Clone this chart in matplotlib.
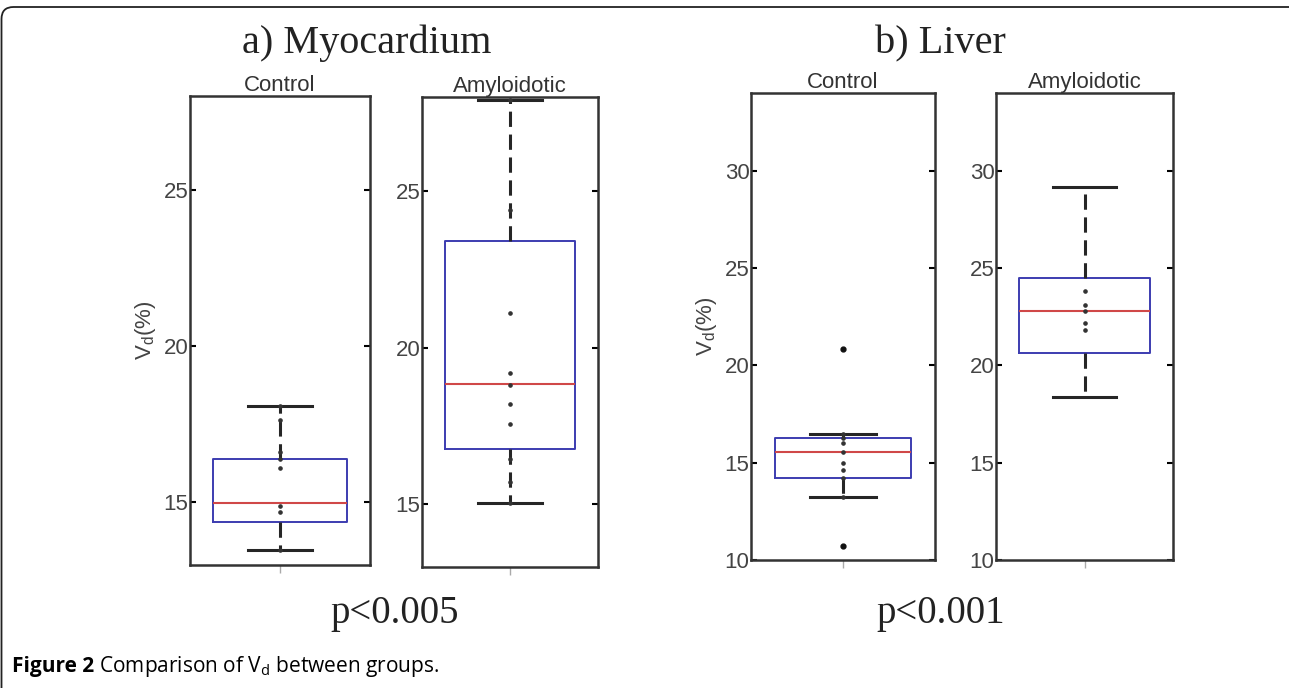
import matplotlib
matplotlib.use("Agg")
import matplotlib.pyplot as plt
from matplotlib.patches import FancyBboxPatch

plt.rcParams['font.family'] = ['Liberation Sans', 'DejaVu Sans']

# values (V_d in %)
groups = ['Control', 'Amyloidotic', 'Control', 'Amyloidotic']
box_q1 = [14.39, 16.77, 14.20, 20.64]
box_med = [14.97, 18.84, 15.56, 22.80]
box_q3 = [16.39, 23.39, 16.28, 24.49]
whisk_lo = [13.48, 15.03, 13.26, 18.40]
whisk_hi = [18.10, 27.90, 16.45, 29.15]
outliers = [[], [], [20.85, 10.70], []]
points = [
    [18.07, 17.65, 16.62, 16.38, 16.09, 14.90, 14.69, 13.47],
    [27.90, 24.40, 21.10, 19.20, 18.80, 18.20, 17.55, 16.45, 15.70, 15.03],
    [16.45, 16.28, 16.00, 15.56, 15.00, 14.60, 14.20, 13.26],
    [23.80, 23.10, 22.80, 22.20, 21.80],
]
ylims = [(13, 28), (13, 28), (10, 34), (10, 34)]
yticks = [[15, 20, 25], [15, 20, 25], [10, 15, 20, 25, 30], [10, 15, 20, 25, 30]]
panel_titles = ['a) Myocardium', 'b) Liver']
p_values = ['p<0.005', 'p<0.001']

W, H = 1289, 688
fig = plt.figure(figsize=(W / 100, H / 100), dpi=100)

# axes boxes in pixels: left, top, right, bottom
rects = [(190, 96, 370, 565), (422, 97, 598, 567),
         (751, 93, 935, 560), (996, 93, 1173, 560)]

for i, (l, t, r, b) in enumerate(rects):
    ax = fig.add_axes([l / W, 1 - b / H, (r - l) / W, (b - t) / H])
    stats = dict(q1=box_q1[i], med=box_med[i], q3=box_q3[i],
                 whislo=whisk_lo[i], whishi=whisk_hi[i], fliers=outliers[i])
    ax.bxp([stats], positions=[1], widths=0.74, capwidths=0.36,
           boxprops=dict(color='#3c3cb0', lw=1.4),
           medianprops=dict(color='#d04848', lw=1.5),
           whiskerprops=dict(color='#262626', lw=2.2, linestyle=(0, (5, 2.5))),
           capprops=dict(color='#262626', lw=2.2),
           flierprops=dict(marker='o', ms=3.5, mfc='#111', mec='#111', ls='none'))
    ax.plot([1] * len(points[i]), points[i], 'o', ms=2.3, color='#333', zorder=3)
    ax.set_xlim(0.5, 1.5)
    ax.set_ylim(*ylims[i])
    ax.set_yticks(yticks[i])
    ax.tick_params(axis='y', direction='in', left=True, right=True, length=4,
                   width=1.5, labelsize=16, labelcolor='#444', pad=1)
    ax.set_xticks([1])
    ax.set_xticklabels([''])
    ax.tick_params(axis='x', direction='out', length=6, width=1, color='#aaa')
    for s in ax.spines.values():
        s.set_linewidth(1.8)
        s.set_color('#333')
    ax.set_title(groups[i], fontsize=16, pad=1, color='#333')
    if i in (0, 2):
        ax.set_ylabel(r'V$_\mathregular{d}$(%)', fontsize=16, color='#444', labelpad=4)

# panel titles and p-values
for x, txt in zip([367, 940], panel_titles):
    fig.text(x / W, 1 - 53 / H, txt, ha='center', va='baseline',
             fontsize=29, family='Liberation Serif', color='#222')
for x, txt in zip([395, 941], p_values):
    fig.text(x / W, 1 - 623 / H, txt, ha='center', va='baseline',
             fontsize=28, family='Liberation Serif', color='#222')

# caption
r = fig.canvas.get_renderer()
t1 = fig.text(12 / W, 1 - 672 / H, 'Figure 2', fontsize=15, weight='bold',
              family='Open Sans', va='baseline')
bb = t1.get_window_extent(renderer=r)
fig.text((bb.x1 + 5) / W, 1 - 672 / H, r'Comparison of V$_\mathregular{d}$ between groups.',
         fontsize=15, family='Open Sans', va='baseline')

# rounded frame around the figure (right edge off the canvas)
frame = FancyBboxPatch((1.5, -40), 1300, H - 7 + 40,
                       boxstyle='round,pad=0,rounding_size=12',
                       fill=False, ec='#222', lw=1.3, transform=None)
fig.add_artist(frame)

fig.savefig('out.png', dpi=100)
